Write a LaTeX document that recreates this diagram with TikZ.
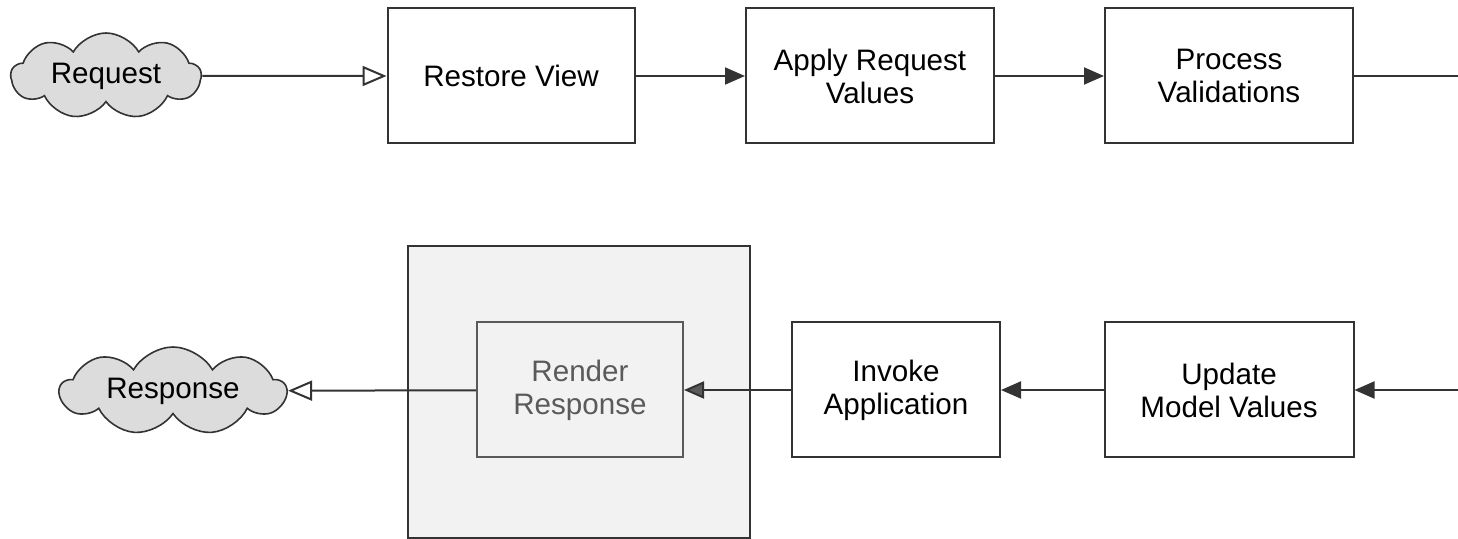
\documentclass[tikz,border=0pt]{standalone}
\usepackage{fontspec}
\setmainfont{Liberation Sans}
\usetikzlibrary{shapes.symbols,arrows.meta}

\definecolor{linegray}{HTML}{333333}
\definecolor{cloudgray}{HTML}{DCDCDC}
\definecolor{panelgray}{HTML}{F2F2F2}
\definecolor{dimgray}{HTML}{5A5A5A}

\begin{document}
\begin{tikzpicture}[x=0.5pt,y=-0.5pt,every node/.style={align=center,font=\fontsize{14.8}{16.5}\selectfont}]

\tikzstyle{phase}=[draw=linegray,line width=1pt,fill=white,minimum height=67.5pt,inner sep=0pt];
\tikzstyle{msg}=[draw=linegray,line width=0.8pt,fill=cloudgray,shape=cloud,cloud puffs=9,cloud puff arc=120,cloud ignores aspect,inner sep=0pt];
\tikzstyle{flow}=[draw=linegray,line width=1pt];
\tikzstyle{tip}=[-{Triangle[length=10pt,width=8.5pt]}];
\tikzstyle{opentip}=[-{Triangle[open,length=12pt,width=10pt]}];

\useasboundingbox (0,0) rectangle (1458,539);

% outer panel round the last phase
\node[draw=linegray,line width=1pt,fill=panelgray,minimum width=171pt,minimum height=146pt,inner sep=0pt] (panel) at (579,392) {};

\node[msg,minimum width=95pt,minimum height=43pt] (req) at (106,76) {Request};
\node[phase,minimum width=123.5pt] (rv) at (511,76) {Restore View};
\node[phase,minimum width=124pt] (arv) at (870,76) {Apply Request\\Values};
\node[phase,minimum width=124pt] (pv) at (1229,76) {Process\\Validations};
\coordinate (topend) at (1458,76);

\coordinate (botend) at (1458,390);
\node[phase,minimum width=124.5pt] (umv) at (1229,390) {Update\\Model Values};
\node[phase,minimum width=104pt] (ia) at (896,390) {Invoke\\Application};
\node[phase,draw=dimgray,fill=panelgray,text=dimgray,minimum width=103pt] (rr) at (580,390) {Render\\Response};
\node[msg,minimum width=113pt,minimum height=44pt] (resp) at (173,391) {Response};

\draw[flow,opentip] (req) -- (rv);
\draw[flow,tip] (rv) -- (arv);
\draw[flow,tip] (arv) -- (pv);
\draw[flow] (pv) -- (topend);

\draw[flow,tip] (botend) -- (umv);
\draw[flow,tip] (umv) -- (ia);
\draw[flow,-{Triangle[length=10pt,width=8.5pt,fill=dimgray]}] (ia) -- (rr);
\draw[flow,opentip] (rr) -- (resp);

\end{tikzpicture}
\end{document}
